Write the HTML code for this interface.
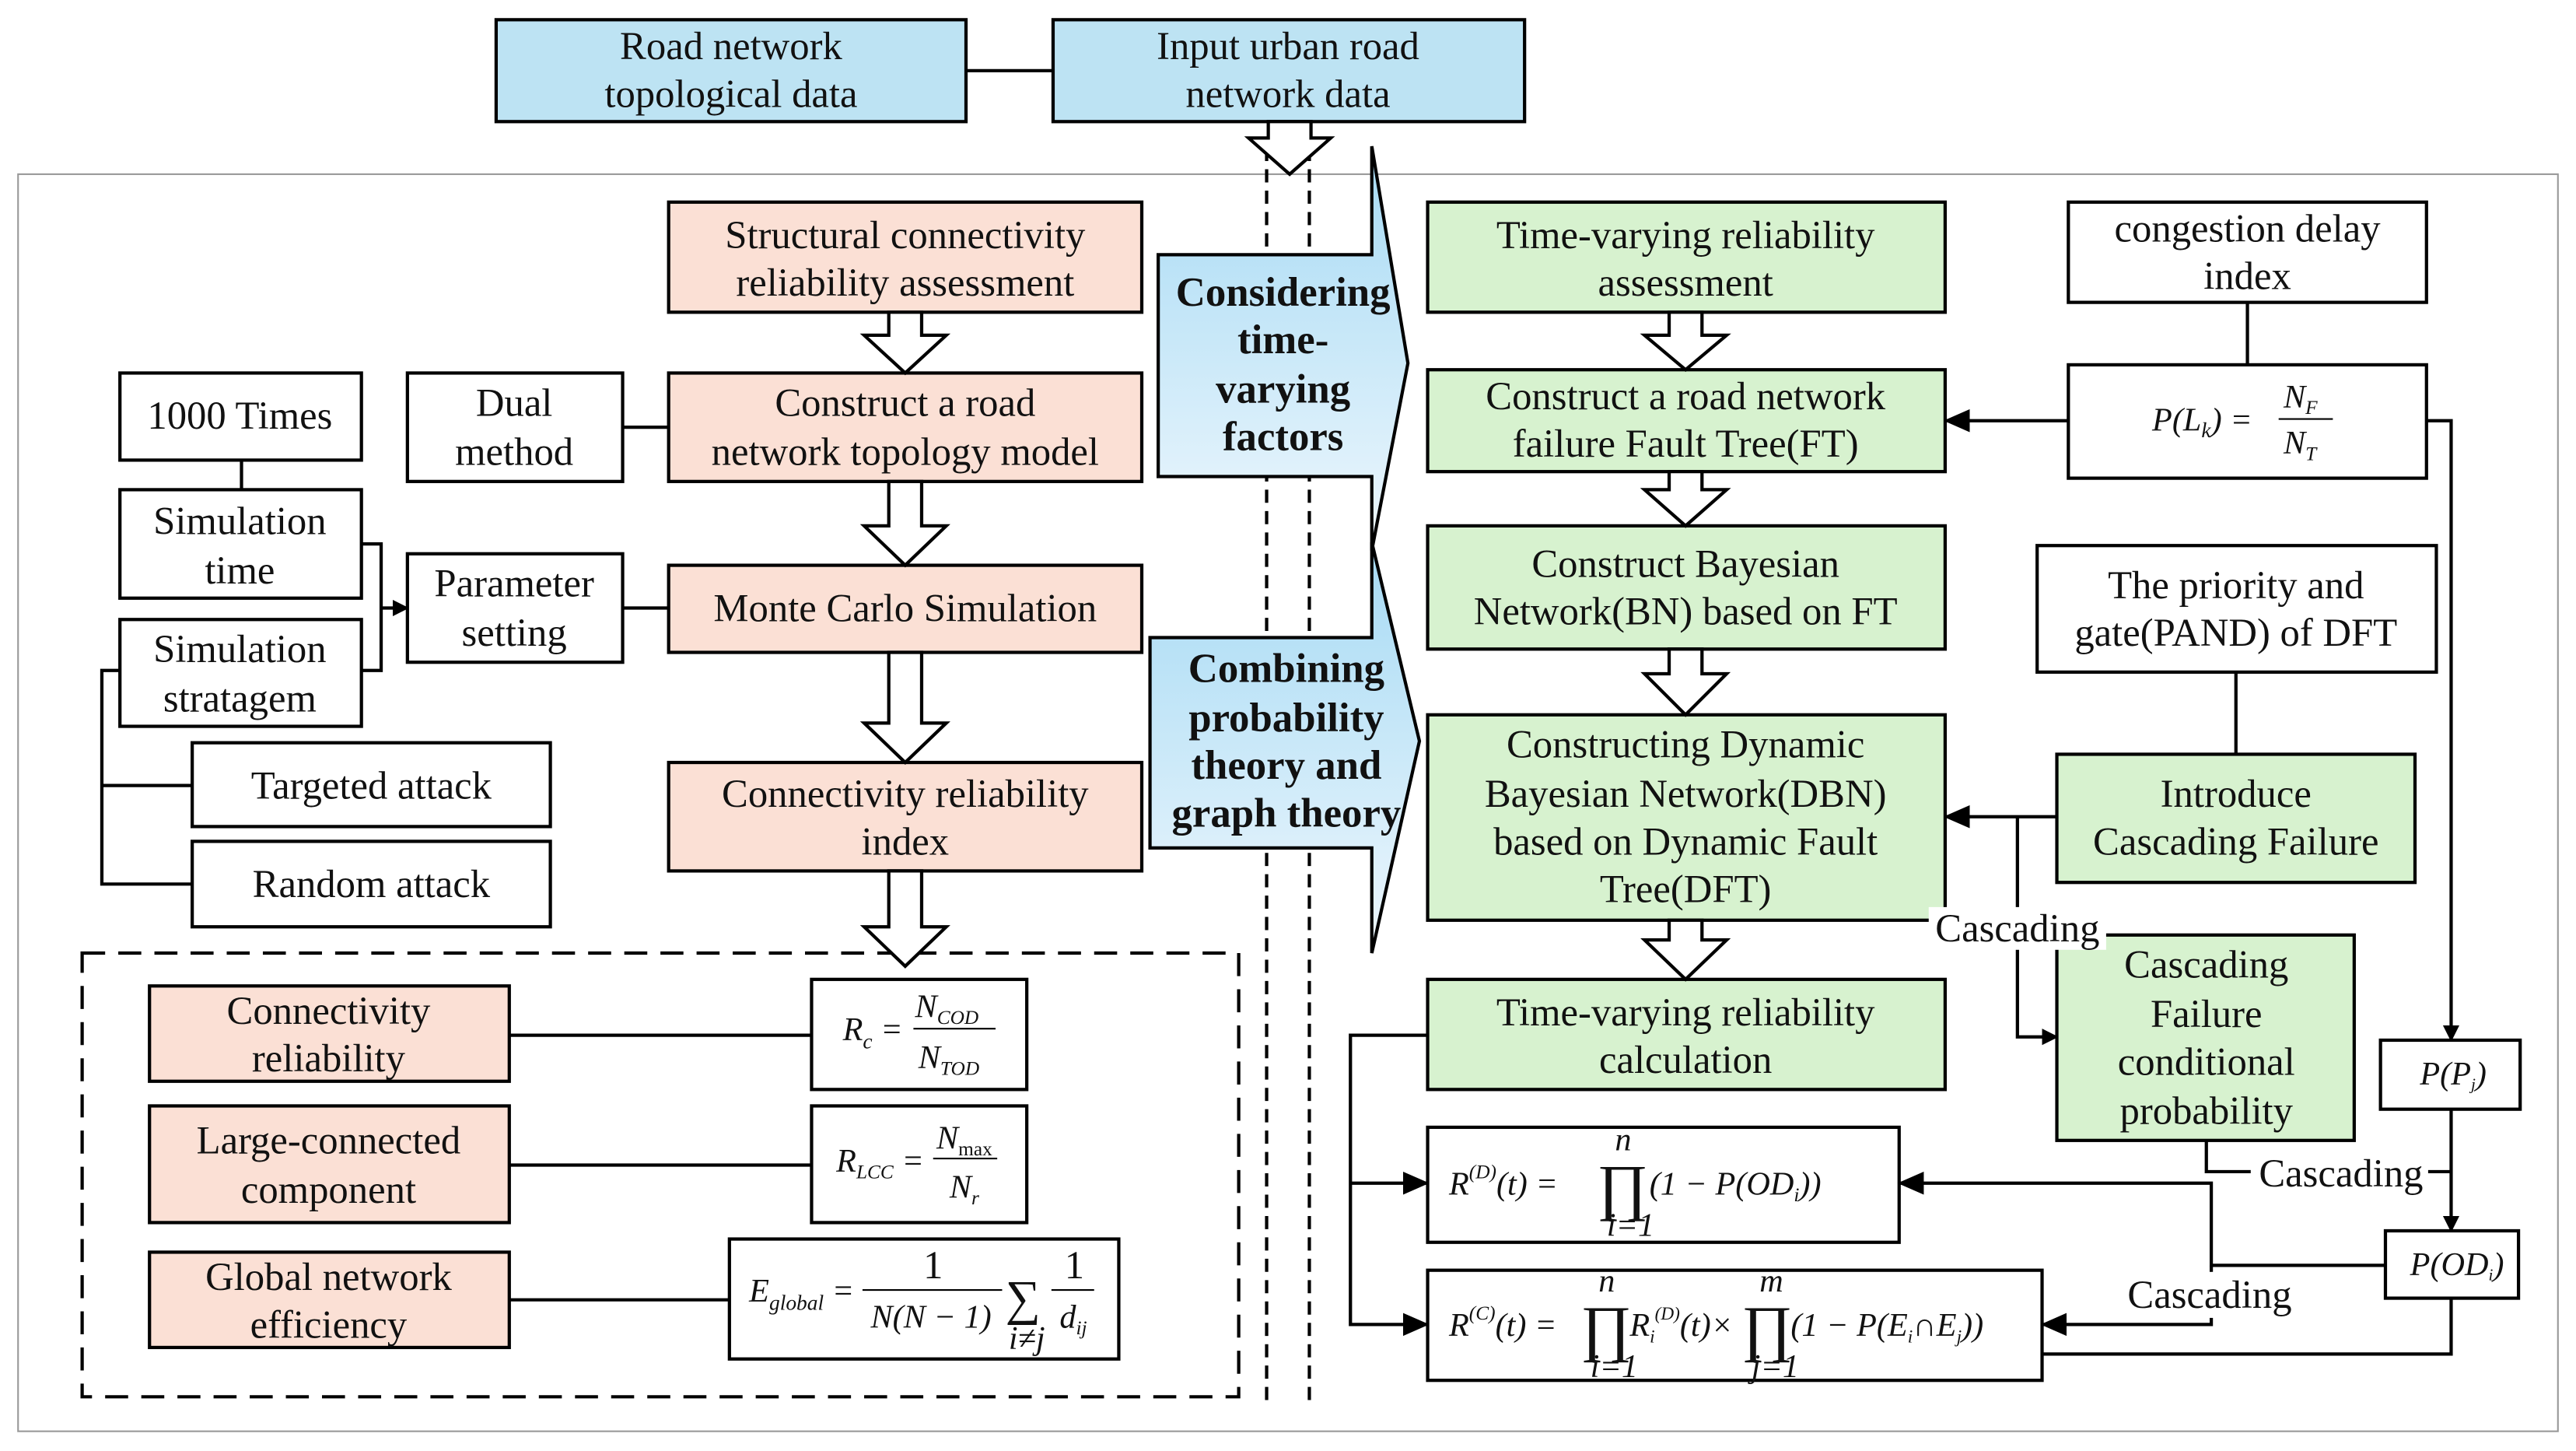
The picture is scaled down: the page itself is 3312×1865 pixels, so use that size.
<!DOCTYPE html>
<html><head><meta charset="utf-8"><style>
html,body{margin:0;padding:0;background:#fff;}
svg{display:block;}
text{font-family:"Liberation Serif",serif;fill:#111;}
.t{font-size:24px;text-anchor:middle;}
.f{font-style:italic;font-size:20px;}
.b{font-weight:bold;font-size:25px;text-anchor:middle;}
</style></head><body>
<svg width="3312" height="1865" viewBox="0 0 1568 883" preserveAspectRatio="none" xmlns="http://www.w3.org/2000/svg">
<defs>
<linearGradient id="g" x1="0" y1="0" x2="0" y2="1"><stop offset="0" stop-color="#a6daf4"/><stop offset="1" stop-color="#eef7fd"/></linearGradient>
<marker id="a" markerWidth="10" markerHeight="10" refX="9" refY="5" orient="auto" markerUnits="userSpaceOnUse"><path d="M0,0 L10,5 L0,10 z" fill="#000"/></marker>
<marker id="a2" markerWidth="16" markerHeight="14" refX="15" refY="7" orient="auto" markerUnits="userSpaceOnUse"><path d="M0,0 L16,7 L0,14 z" fill="#000"/></marker>
</defs>
<g stroke="#000" stroke-width="2" fill="none">
<rect x="11" y="106" width="1546" height="765" stroke="#999" stroke-width="1"/>
<line x1="771" y1="90" x2="771" y2="855" stroke-dasharray="8,5"/>
<line x1="797" y1="90" x2="797" y2="855" stroke-dasharray="8,5"/>
<rect x="50" y="580" width="704" height="270" stroke-dasharray="14,8"/>
<rect x="302" y="12" width="286" height="62" fill="#bde3f3"/>
<rect x="641" y="12" width="287" height="62" fill="#bde3f3"/>
<line x1="588" y1="43" x2="641" y2="43"/>
<path d="M772,74 H798 V84 H810 L785,106 L760,84 H772 Z" fill="#fff"/>
<rect x="407" y="123" width="288" height="67" fill="#fbe0d5"/>
<rect x="407" y="227" width="288" height="66" fill="#fbe0d5"/>
<rect x="407" y="344" width="288" height="53" fill="#fbe0d5"/>
<rect x="407" y="464" width="288" height="66" fill="#fbe0d5"/>
<rect x="248" y="227" width="131" height="66" fill="#fff"/>
<line x1="379" y1="260" x2="407" y2="260"/>
<rect x="73" y="227" width="147" height="53" fill="#fff"/>
<rect x="73" y="298" width="147" height="66" fill="#fff"/>
<rect x="73" y="377" width="147" height="65" fill="#fff"/>
<line x1="147" y1="280" x2="147" y2="298"/>
<path d="M220,331 H232 V408 H220"/>
<line x1="232" y1="370" x2="248" y2="370" marker-end="url(#a)"/>
<rect x="248" y="337" width="131" height="66" fill="#fff"/>
<line x1="379" y1="370" x2="407" y2="370"/>
<path d="M73,408 H62 V538 H117 M62,478 H117"/>
<rect x="117" y="452" width="218" height="51" fill="#fff"/>
<rect x="117" y="512" width="218" height="52" fill="#fff"/>
<path d="M541,190 H561 V204 H576 L551,227 L526,204 H541 Z" fill="#fff"/>
<path d="M541,293 H561 V320 H576 L551,344 L526,320 H541 Z" fill="#fff"/>
<path d="M541,397 H561 V440 H576 L551,464 L526,440 H541 Z" fill="#fff"/>
<path d="M541,530 H561 V564 H576 L551,588 L526,564 H541 Z" fill="#fff"/>
<rect x="91" y="600" width="219" height="58" fill="#fbe0d5"/>
<rect x="91" y="673" width="219" height="71" fill="#fbe0d5"/>
<rect x="91" y="762" width="219" height="58" fill="#fbe0d5"/>
<rect x="494" y="596" width="131" height="67" fill="#fff"/>
<rect x="494" y="673" width="131" height="71" fill="#fff"/>
<rect x="444" y="754" width="237" height="73" fill="#fff"/>
<line x1="310" y1="630" x2="494" y2="630"/>
<line x1="310" y1="709" x2="494" y2="709"/>
<line x1="310" y1="791" x2="444" y2="791"/>
<path d="M700,388 H835 V330 L864,451 L835,580 V516 H700 Z" fill="url(#g)"/>
<path d="M705,155 H835 V89 L857,221 L835,335 V290 H705 Z" fill="url(#g)"/>
<rect x="869" y="123" width="315" height="67" fill="#d7f2cf"/>
<rect x="869" y="225" width="315" height="62" fill="#d7f2cf"/>
<rect x="869" y="320" width="315" height="75" fill="#d7f2cf"/>
<rect x="869" y="435" width="315" height="125" fill="#d7f2cf"/>
<rect x="869" y="596" width="315" height="67" fill="#d7f2cf"/>
<path d="M1016,190 H1036 V204 H1051 L1026,225 L1001,204 H1016 Z" fill="#fff"/>
<path d="M1016,287 H1036 V298 H1051 L1026,320 L1001,298 H1016 Z" fill="#fff"/>
<path d="M1016,395 H1036 V410 H1051 L1026,435 L1001,410 H1016 Z" fill="#fff"/>
<path d="M1016,560 H1036 V572 H1051 L1026,596 L1001,572 H1016 Z" fill="#fff"/>
<rect x="869" y="686" width="287" height="70" fill="#fff"/>
<rect x="869" y="773" width="374" height="67" fill="#fff"/>
<rect x="1259" y="123" width="218" height="61" fill="#fff"/>
<line x1="1368" y1="184" x2="1368" y2="222"/>
<rect x="1259" y="222" width="218" height="69" fill="#fff"/>
<line x1="1259" y1="256" x2="1184" y2="256" marker-end="url(#a2)"/>
<path d="M1477,256 H1492 V633" marker-end="url(#a)"/>
<rect x="1449" y="633" width="85" height="42" fill="#fff"/>
<rect x="1240" y="332" width="243" height="77" fill="#fff"/>
<line x1="1361" y1="409" x2="1361" y2="459"/>
<rect x="1252" y="459" width="218" height="78" fill="#d7f2cf"/>
<line x1="1252" y1="497" x2="1184" y2="497" marker-end="url(#a2)"/>
<path d="M1228,497 V631 H1252" marker-end="url(#a)"/>
<rect x="1252" y="569" width="181" height="125" fill="#d7f2cf"/>
<path d="M1343,694 V713 H1492"/>
<path d="M1492,675 V749" marker-end="url(#a)"/>
<rect x="1452" y="749" width="81" height="41" fill="#fff"/>
<path d="M1452,770 H1346 V720 H1156" marker-end="url(#a2)"/>
<path d="M1346,770 V806 H1243" marker-end="url(#a2)"/>
<path d="M1492,790 V824 H1243"/>
<path d="M869,630 H822 V806 H869" marker-end="url(#a2)"/>
<line x1="822" y1="720" x2="869" y2="720" marker-end="url(#a2)"/>
</g>
<rect x="1174" y="552" width="108" height="26" fill="#fff"/>
<rect x="1370" y="700" width="108" height="26" fill="#fff"/>
<rect x="1290" y="774" width="110" height="28" fill="#fff"/>
<text class="t" x="445" y="36">Road network</text><text class="t" x="445" y="65">topological data</text>
<text class="t" x="784" y="36">Input urban road</text><text class="t" x="784" y="65">network data</text>
<text class="t" x="551" y="151">Structural connectivity</text><text class="t" x="551" y="180">reliability assessment</text>
<text class="t" x="551" y="253">Construct a road</text><text class="t" x="551" y="283">network topology model</text>
<text class="t" x="551" y="378">Monte Carlo Simulation</text>
<text class="t" x="551" y="491">Connectivity reliability</text><text class="t" x="551" y="520">index</text>
<text class="t" x="313" y="253">Dual</text><text class="t" x="313" y="283">method</text>
<text class="t" x="146" y="261">1000 Times</text>
<text class="t" x="146" y="325">Simulation</text><text class="t" x="146" y="355">time</text>
<text class="t" x="146" y="403">Simulation</text><text class="t" x="146" y="433">stratagem</text>
<text class="t" x="313" y="363">Parameter</text><text class="t" x="313" y="393">setting</text>
<text class="t" x="226" y="486">Targeted attack</text>
<text class="t" x="226" y="546">Random attack</text>
<text class="t" x="200" y="623">Connectivity</text><text class="t" x="200" y="652">reliability</text>
<text class="t" x="200" y="702">Large-connected</text><text class="t" x="200" y="732">component</text>
<text class="t" x="200" y="785">Global network</text><text class="t" x="200" y="814">efficiency</text>
<text class="b" x="781" y="186">Considering</text><text class="b" x="781" y="215">time-</text><text class="b" x="781" y="245">varying</text><text class="b" x="781" y="274">factors</text>
<text class="b" x="783" y="415">Combining</text><text class="b" x="783" y="445">probability</text><text class="b" x="783" y="474">theory and</text><text class="b" x="783" y="503">graph theory</text>
<text class="t" x="1026" y="151">Time-varying reliability</text><text class="t" x="1026" y="180">assessment</text>
<text class="t" x="1026" y="249">Construct a road network</text><text class="t" x="1026" y="278">failure Fault Tree(FT)</text>
<text class="t" x="1026" y="351">Construct Bayesian</text><text class="t" x="1026" y="380">Network(BN) based on FT</text>
<text class="t" x="1026" y="461">Constructing Dynamic</text><text class="t" x="1026" y="491">Bayesian Network(DBN)</text><text class="t" x="1026" y="520">based on Dynamic Fault</text><text class="t" x="1026" y="549">Tree(DFT)</text>
<text class="t" x="1026" y="624">Time-varying reliability</text><text class="t" x="1026" y="653">calculation</text>
<text class="t" x="1368" y="147">congestion delay</text><text class="t" x="1368" y="176">index</text>
<text class="t" x="1361" y="364">The priority and</text><text class="t" x="1361" y="393">gate(PAND) of DFT</text>
<text class="t" x="1361" y="491">Introduce</text><text class="t" x="1361" y="520">Cascading Failure</text>
<text class="t" x="1343" y="595">Cascading</text><text class="t" x="1343" y="625">Failure</text><text class="t" x="1343" y="654">conditional</text><text class="t" x="1343" y="684">probability</text>
<text class="t" x="1228" y="573">Cascading</text>
<text class="t" x="1425" y="722">Cascading</text>
<text class="t" x="1345" y="796">Cascading</text>
<text class="f" x="1310" y="262">P(L<tspan font-size="13" dy="4">k</tspan><tspan dy="-4">) =</tspan></text>
<line x1="1387" y1="255" x2="1420" y2="255" stroke="#000" stroke-width="1"/>
<text class="f" x="1390" y="248">N<tspan font-size="12" dy="4">F</tspan></text>
<text class="f" x="1390" y="276">N<tspan font-size="12" dy="4">T</tspan></text>
<text class="f" x="1473" y="660" font-size="17">P(P<tspan font-size="10" dy="3">j</tspan><tspan dy="-3">)</tspan></text>
<text class="f" x="1467" y="776" font-size="17">P(OD<tspan font-size="10" dy="3">i</tspan><tspan dy="-3">)</tspan></text>
<text class="f" x="513" y="633">R<tspan font-size="13" dy="5">c</tspan><tspan dy="-5"> =</tspan></text>
<line x1="556" y1="626" x2="606" y2="626" stroke="#000" stroke-width="1"/>
<text class="f" x="557" y="619">N<tspan font-size="12" dy="4">COD</tspan></text>
<text class="f" x="559" y="650">N<tspan font-size="12" dy="4">TOD</tspan></text>
<text class="f" x="509" y="713">R<tspan font-size="12" dy="4">LCC</tspan><tspan dy="-4"> =</tspan></text>
<line x1="568" y1="705" x2="607" y2="705" stroke="#000" stroke-width="1"/>
<text class="f" x="570" y="699">N<tspan font-size="12" dy="4" font-style="normal">max</tspan></text>
<text class="f" x="578" y="729">N<tspan font-size="12" dy="4">r</tspan></text>
<text class="f" x="456" y="792">E<tspan font-size="13" dy="5">global</tspan><tspan dy="-5"> =</tspan></text>
<line x1="525" y1="785" x2="610" y2="785" stroke="#000" stroke-width="1"/>
<text class="t" x="568" y="778" font-size="20">1</text>
<text class="f" x="530" y="808">N(N − 1)</text>
<text x="612" y="800" font-size="30">∑</text>
<text class="f" x="614" y="821" font-size="11">i≠j</text>
<line x1="640" y1="785" x2="666" y2="785" stroke="#000" stroke-width="1"/>
<text class="t" x="654" y="778" font-size="20">1</text>
<text class="f" x="645" y="808">d<tspan font-size="12" dy="4">ij</tspan></text>
<text class="f" x="882" y="727" font-size="22">R<tspan font-size="12" dy="-10">(D)</tspan><tspan dy="10">(t) =</tspan></text>
<text x="972" y="735" font-size="38">∏</text>
<text class="f" x="983" y="700" font-size="11">n</text><text class="f" x="978" y="752" font-size="11">i=1</text>
<text class="f" x="1004" y="727" font-size="22">(1 − P(OD<tspan font-size="12" dy="4">i</tspan><tspan dy="-4">))</tspan></text>
<text class="f" x="882" y="813" font-size="22">R<tspan font-size="12" dy="-10">(C)</tspan><tspan dy="10">(t) =</tspan></text>
<text x="962" y="821" font-size="38">∏</text>
<text class="f" x="973" y="786" font-size="11">n</text><text class="f" x="968" y="838" font-size="11">i=1</text>
<text class="f" x="992" y="813" font-size="22">R<tspan font-size="11" dy="4">i</tspan><tspan font-size="11" dy="-14">(D)</tspan><tspan dy="10">(t)×</tspan></text>
<text x="1060" y="821" font-size="38">∏</text>
<text class="f" x="1071" y="786" font-size="11">m</text><text class="f" x="1066" y="838" font-size="11">j=1</text>
<text class="f" x="1090" y="813" font-size="22">(1 − P(E<tspan font-size="11" dy="4">i</tspan><tspan dy="-4">∩E</tspan><tspan font-size="11" dy="4">j</tspan><tspan dy="-4">))</tspan></text>
</svg>
</body></html>
